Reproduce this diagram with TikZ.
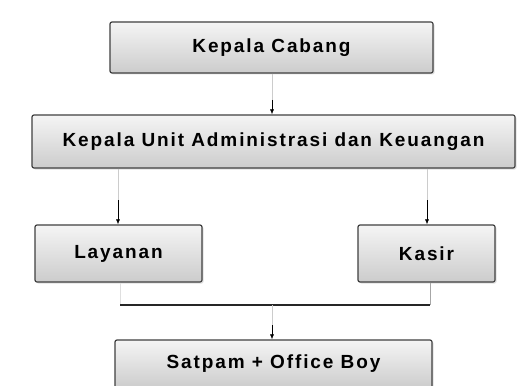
\documentclass[tikz,border=0pt]{standalone}
\usepackage{fontspec}
\setmainfont{Liberation Sans}
\newfontfamily\boxfont[LetterSpace=10]{Liberation Sans}
\usetikzlibrary{arrows.meta,shadows}
\begin{document}
\begin{tikzpicture}[x=1pt,y=-1pt,
  box/.style={draw=black!75,line width=1.2pt,rounded corners=2pt,
    top color=gray!8,bottom color=gray!40,
    drop shadow={shadow xshift=1.5pt,shadow yshift=-1.5pt,fill=gray!50},
    font=\boxfont\bfseries\fontsize{19}{22}\selectfont,inner sep=0pt},
  conn/.style={draw=gray!40,line width=0.6pt},
  arr/.style={draw=black,line width=0.6pt,-{Latex[length=5pt,width=4pt]}}]
\useasboundingbox[fill=white] (0,0) rectangle (529,385);
\node[box,minimum width=323pt,minimum height=51pt] (kc) at (271.5,47.5) {Kepala Cabang};
\node[box,minimum width=483pt,minimum height=53pt] (ku) at (273.5,141.5) {Kepala Unit Administrasi dan Keuangan};
\node[box,minimum width=167pt,minimum height=57pt] (ly) at (118.5,253.5) {Layanan};
\node[box,minimum width=137pt,minimum height=57pt] (ks) at (426.5,253.5) {Kasir};
\node[box,minimum width=317pt,minimum height=48pt] (sp) at (273.5,364) {Satpam + Office Boy};
\coordinate (a1) at (272,100);
\coordinate (a2) at (118,200);
\coordinate (a3) at (427,200);
\coordinate (jl) at (120,305);
\coordinate (jr) at (430,305);
\coordinate (jm) at (272,305);
\coordinate (a4) at (272,325);
\draw[conn] (kc.south -| a1) -- (a1);
\draw[arr] (a1) -- (ku.north -| a1);
\draw[conn] (ku.south -| a2) -- (a2);
\draw[arr] (a2) -- (ly.north -| a2);
\draw[conn] (ku.south -| a3) -- (a3);
\draw[arr] (a3) -- (ks.north -| a3);
\draw[draw=gray!70,line width=0.6pt] (ks.south -| jr) -- (jr);
\draw[conn,gray!25] (ly.south -| jl) -- (jl);
\draw[black!85,line width=2pt] (jl) -- (jr);
\draw[conn] (jm) -- (a4);
\draw[arr] (a4) -- (sp.north -| jm);
\end{tikzpicture}
\end{document}
